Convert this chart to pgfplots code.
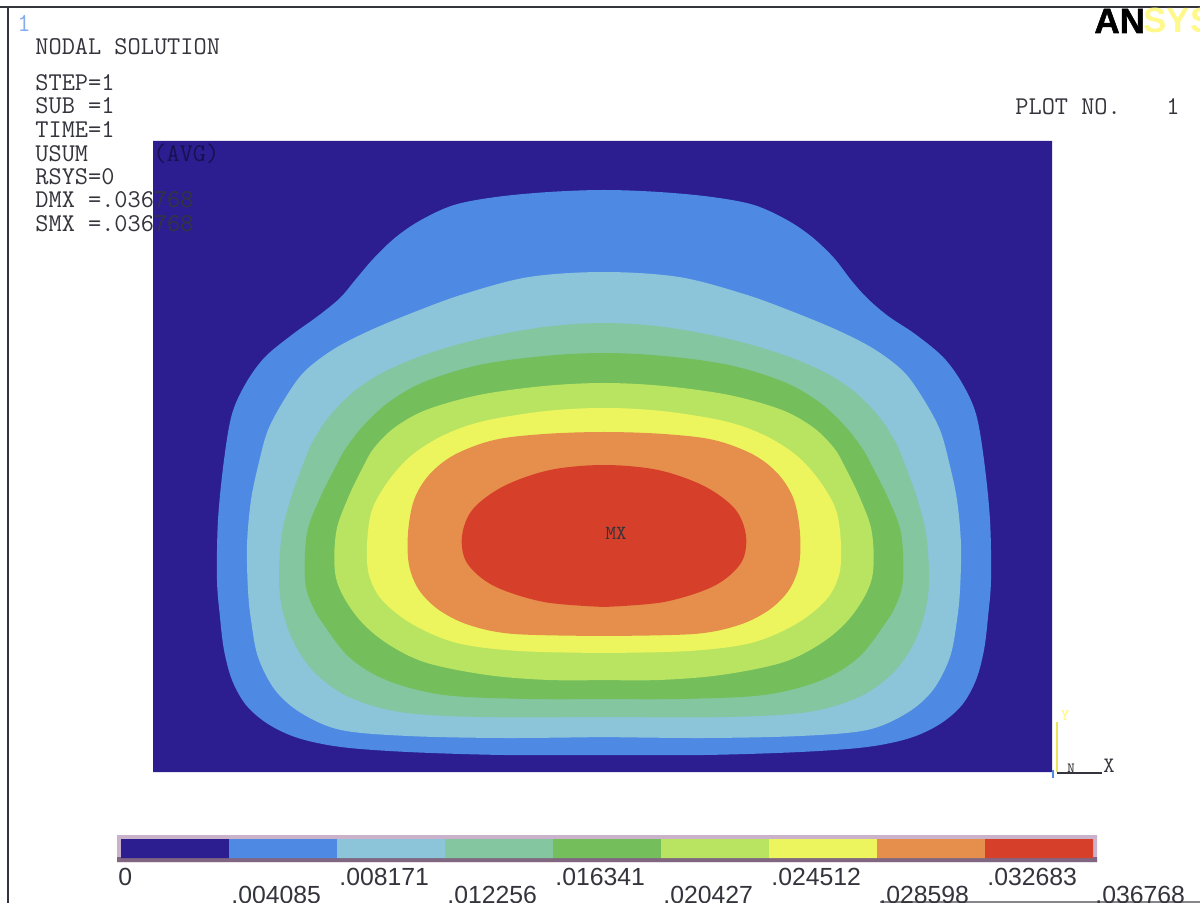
\documentclass[border=0pt]{standalone}
\usepackage{pgfplots}
\pgfplotsset{compat=1.18}
\usepackage{fontspec}
\newfontfamily\sansf{Liberation Sans}
\definecolor{cD}{RGB}{44,30,145}
\definecolor{c1}{RGB}{78,138,228}
\definecolor{c2}{RGB}{140,196,218}
\definecolor{c3}{RGB}{132,198,160}
\definecolor{c4}{RGB}{116,190,92}
\definecolor{c5}{RGB}{184,228,98}
\definecolor{c6}{RGB}{236,245,94}
\definecolor{c7}{RGB}{230,142,76}
\definecolor{c8}{RGB}{214,64,42}
\definecolor{txt}{RGB}{52,52,60}
\newcommand{\ansfont}{\fontsize{12.8}{14}\selectfont\ttfamily\addfontfeature{FakeBold=2.5}}
\begin{document}
\begin{tikzpicture}
\begin{axis}[name=ax, x=0.5pt, y=0.5pt, xmin=0, xmax=1200, ymin=0, ymax=903,
  y dir=reverse, hide axis, clip=false, anchor=south west, at={(0,0)}]
% page background
\addplot[fill=white, draw=none] coordinates {(0,0)(1200,0)(1200,903)(0,903)(0,0)};
% plot area
\addplot[fill=cD, draw=none] coordinates {(153,141)(1052,141)(1052,772)(153,772)(153,141)};
% contour bands, outermost first
\addplot[fill=c1, draw=none, smooth, tension=0.55] coordinates {
(604,755) (704,755) (800,752) (867,747) (910,738) (940,724) (962,705) (976,680) (984,650) (988,617) (991,580) (990,520) (984,460) (976,414) (962,383) (943,357) (915,334) (888,316) (867,298) (851,280) (834,258) (812,237) (787,220) (754,205) (712,197) (659,192) (604,190) (549,192) (496,197) (454,205) (421,220) (396,237) (374,258) (356,279) (340,298) (318,316) (293,334) (265,357) (246,383) (232,414) (224,460) (218,520) (217,580) (220,617) (224,650) (232,680) (246,705) (268,724) (298,738) (341,747) (408,752) (504,755) (604,755)};
\addplot[fill=c2, draw=none, smooth, tension=0.55] coordinates {
(604,737) (704,738) (800,736) (867,730) (907,713) (933,690) (950,657) (957,620) (960,590) (961,545) (957,500) (949,462) (940,430) (924,400) (904,372) (874,349) (837,330) (791,311) (744,294) (679,277) (604,272) (529,277) (464,294) (417,311) (371,330) (334,349) (304,372) (284,400) (268,430) (259,462) (251,500) (247,545) (248,590) (251,620) (258,657) (275,690) (301,713) (341,730) (408,736) (504,738) (604,737)};
\addplot[fill=c3, draw=none, smooth, tension=0.55] coordinates {
(604,717) (729,717) (808,712) (859,697) (893,673) (914,643) (925,612) (929,580) (926,533) (916,495) (904,462) (896,443) (880,418) (856,393) (826,373) (784,355) (729,339) (664,327) (604,323) (544,327) (479,339) (424,355) (382,373) (352,393) (328,418) (312,443) (304,462) (292,495) (282,533) (279,580) (283,612) (294,643) (315,673) (349,697) (400,712) (479,717) (604,717)};
\addplot[fill=c4, draw=none, smooth, tension=0.55] coordinates {
(604,699) (679,699) (764,695) (822,680) (859,657) (884,625) (896,605) (903,580) (901,533) (888,498) (872,466) (862,448) (844,425) (819,402) (784,382) (729,365) (664,356) (604,353) (544,356) (479,365) (424,382) (389,402) (364,425) (346,448) (336,466) (320,498) (307,533) (305,580) (312,605) (324,625) (349,657) (386,680) (444,695) (529,699) (604,699)};
\addplot[fill=c5, draw=none, smooth, tension=0.55] coordinates {
(604,680) (659,680) (721,675) (784,662) (826,640) (854,613) (872,578) (872,533) (860,498) (844,465) (834,448) (814,428) (782,410) (729,395) (664,386) (604,383) (544,386) (479,395) (426,410) (394,428) (374,448) (364,465) (348,498) (336,533) (336,578) (354,613) (382,640) (424,662) (487,675) (549,680) (604,680)};
\addplot[fill=c6, draw=none, smooth, tension=0.55] coordinates {
(604,653) (689,651) (751,643) (796,624) (826,600) (839,575) (841,545) (836,510) (819,480) (796,455) (764,435) (724,421) (662,411) (604,408) (546,411) (484,421) (444,435) (412,455) (389,480) (372,510) (367,545) (369,575) (382,600) (412,624) (457,643) (519,651) (604,653)};
\addplot[fill=c7, draw=none, smooth, tension=0.55] coordinates {
(604,636) (694,634) (739,625) (769,610) (789,590) (799,565) (800,533) (794,500) (779,475) (754,455) (714,440) (664,434) (604,432) (544,434) (494,440) (454,455) (429,475) (414,500) (408,533) (409,565) (419,590) (439,610) (469,625) (514,634) (604,636)};
\addplot[fill=c8, draw=none, smooth, tension=0.55] coordinates {
(604,607) (664,602) (714,586) (741,563) (746,536) (735,509) (704,486) (658,470) (604,465) (550,470) (504,486) (473,509) (462,536) (467,563) (494,586) (544,602) (604,607)};
% colour bar
\addplot[fill=black!35!violet!30!white, draw=none] coordinates {(117,835)(1097,835)(1097,862)(117,862)(117,835)};
\addplot[fill=black!65!violet!60!white, draw=none] coordinates {(117,857)(1097,857)(1097,862)(117,862)(117,857)};
\addplot[fill=cD, draw=none] coordinates {(121,839)(229,839)(229,858)(121,858)(121,839)};
\addplot[fill=c1, draw=none] coordinates {(229,839)(337,839)(337,858)(229,858)(229,839)};
\addplot[fill=c2, draw=none] coordinates {(337,839)(445,839)(445,858)(337,858)(337,839)};
\addplot[fill=c3, draw=none] coordinates {(445,839)(553,839)(553,858)(445,858)(445,839)};
\addplot[fill=c4, draw=none] coordinates {(553,839)(661,839)(661,858)(553,858)(553,839)};
\addplot[fill=c5, draw=none] coordinates {(661,839)(769,839)(769,858)(661,858)(661,839)};
\addplot[fill=c6, draw=none] coordinates {(769,839)(877,839)(877,858)(769,858)(769,839)};
\addplot[fill=c7, draw=none] coordinates {(877,839)(985,839)(985,858)(877,858)(877,839)};
\addplot[fill=c8, draw=none] coordinates {(985,839)(1093,839)(1093,858)(985,858)(985,839)};
% frame
\draw[color=txt, line width=1.2pt] (axis cs:0,7) -- (axis cs:1200,7);
\draw[color=txt, line width=1.2pt] (axis cs:8,7) -- (axis cs:8,903);
\draw[color=txt!60, line width=0.6pt] (axis cs:880,902) -- (axis cs:1200,902);
% header texts
\node[anchor=base west, text=c1!70, inner sep=0pt, font=\fontsize{13}{14}\selectfont\ttfamily] at (axis cs:17,32) {1};
\begin{scope}[every node/.style={anchor=base west, text=txt, font=\ansfont, inner sep=0pt}]
\node at (axis cs:35,55) {NODAL SOLUTION};
\node at (axis cs:35,91) {STEP=1};
\node at (axis cs:35,114) {SUB =1};
\node at (axis cs:35,138) {TIME=1};
\node at (axis cs:35,162) {USUM};
\node[text=black!45!cD] at (axis cs:153,162) {(AVG)};
\node at (axis cs:35,185) {RSYS=0};
\node at (axis cs:35,208) {DMX =.036768};
\node at (axis cs:35,232) {SMX =.036768};
\node at (axis cs:1015,115) {PLOT NO.};
\node at (axis cs:1166,115) {1};
\end{scope}
\node[anchor=base west, inner sep=0pt, text=black, font=\fontsize{17.5}{18}\selectfont\sansf\bfseries\addfontfeature{FakeBold=1.5}] at (axis cs:1094,33) {AN};
\node[anchor=base west, inner sep=0pt, text=yellow!45!white, font=\fontsize{17.5}{18}\selectfont\sansf\bfseries] at (axis cs:1143,33) {SYS};
\node[text=txt, font=\fontsize{10}{12}\selectfont\ttfamily\addfontfeature{FakeBold=3}, inner sep=0pt] at (axis cs:616,533) {MX};
% triad
\draw[color=yellow!70!olive!60!white, line width=1pt] (axis cs:1057,722) -- (axis cs:1057,772);
\draw[color=txt, line width=1pt] (axis cs:1057,773) -- (axis cs:1102,773);
\node[text=yellow!50!white, font=\fontsize{8}{9}\selectfont\ttfamily, inner sep=0pt] at (axis cs:1065,716) {Y};
\node[text=txt, font=\fontsize{7}{8}\selectfont\ttfamily\addfontfeature{FakeBold=2}, inner sep=0pt] at (axis cs:1071,768) {N};
\node[text=txt, font=\fontsize{11}{12}\selectfont\ttfamily\addfontfeature{FakeBold=1.5}, inner sep=0pt] at (axis cs:1109,766) {X};
\draw[color=c1, line width=1pt] (axis cs:1053,770) -- (axis cs:1053,778);
% colour bar labels
\begin{scope}[every node/.style={anchor=base west, text=txt, font=\fontsize{12.4}{14}\selectfont\sansf, inner sep=0pt}]
\node at (axis cs:118,885) {0};
\node at (axis cs:231,903) {.004085};
\node at (axis cs:339,885) {.008171};
\node at (axis cs:447,903) {.012256};
\node at (axis cs:555,885) {.016341};
\node at (axis cs:663,903) {.020427};
\node at (axis cs:771,885) {.024512};
\node at (axis cs:879,903) {.028598};
\node at (axis cs:987,885) {.032683};
\node at (axis cs:1095,903) {.036768};
\end{scope}
\end{axis}
\pgfresetboundingbox
\useasboundingbox (ax.south west) rectangle (ax.north east);
\end{tikzpicture}
\end{document}
